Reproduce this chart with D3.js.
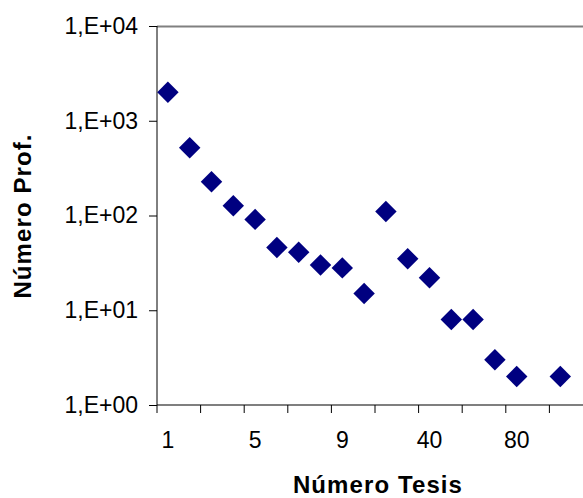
<!DOCTYPE html>
<html>
<head>
<meta charset="utf-8">
<script src="https://cdn.jsdelivr.net/npm/d3@7"></script>
<style>
  body { margin: 0; background: #fff; }
  text { font-family: "Liberation Sans", Arial, sans-serif; }
</style>
</head>
<body>
<div id="chart"></div>
<script>
// categories on the x axis (Número Tesis)
const tesis = ["1","2","3","4","5","6","7","8","9","10","20","30","40","50","60","70","80","90","100"];
// number of professors per category (null = no point)
const profesores = [2000, 520, 227, 127, 91, 46, 41, 30, 28, 15, 110, 35, 22, 8, 8, 3, 2, null, 2];
const yTicks = [1, 10, 100, 1000, 10000];
const xLabelEvery = 4;
const xTickEvery = 2;

const margin = { top: 26, right: 0, bottom: 93, left: 157 },
      fullW = 583, fullH = 498,
      height = fullH - margin.top - margin.bottom,
      step = 21.8,
      width = step * tesis.length;

const svg = d3.select("#chart")
  .append("svg")
  .attr("width", fullW)
  .attr("height", fullH)
  .append("g")
  .attr("transform", `translate(${margin.left}, ${margin.top})`);

const x = d3.scaleBand()
  .domain(tesis)
  .range([0, width]);

const y = d3.scaleLog()
  .domain([1, 10000])
  .range([height, 0]);

// plot area top border (grey), runs off the right edge like the original
svg.append("line")
  .attr("x1", 0).attr("x2", fullW)
  .attr("y1", 0.5).attr("y2", 0.5)
  .attr("stroke", "#808080").attr("stroke-width", 2);

/* -------------------- Y AXIS -------------------- */
const yAxis = svg.append("g")
  .call(d3.axisLeft(y).tickValues(yTicks).tickSize(8).tickPadding(11)
    .tickFormat(d => "1,E+0" + Math.round(Math.log10(d))));
yAxis.select(".domain").attr("stroke", "#000").attr("d", `M0,0V${height}`);
yAxis.selectAll(".tick line").attr("stroke", "#000");
yAxis.selectAll("text").attr("font-size", 23).attr("fill", "#000")
  .attr("font-family", "Liberation Sans, Arial, sans-serif");

/* -------------------- X AXIS -------------------- */
const xAxisG = svg.append("g")
  .attr("transform", `translate(0, ${height})`);
xAxisG.append("line")
  .attr("x1", 0).attr("x2", fullW)
  .attr("stroke", "#000").attr("stroke-width", 1.2);
const tickPos = d3.range(0, tesis.length, xTickEvery).map(i => i * step);
xAxisG.selectAll(".xt")
  .data(tickPos)
  .join("line")
  .attr("class", "xt")
  .attr("x1", d => d).attr("x2", d => d)
  .attr("y1", 0).attr("y2", 8)
  .attr("stroke", "#000");
xAxisG.selectAll(".xl")
  .data(tesis.filter((d, i) => i % xLabelEvery === 0))
  .join("text")
  .attr("class", "xl")
  .attr("x", d => x(d) + x.bandwidth() / 2)
  .attr("y", 43)
  .attr("text-anchor", "middle")
  .attr("font-size", 23)
  .text(d => d);

/* -------------------- POINTS -------------------- */
const pts = tesis.map((t, i) => ({ t, v: profesores[i] })).filter(d => d.v != null);
const diamond = d3.symbol().type(d3.symbolSquare).size(230);
svg.selectAll(".pt")
  .data(pts)
  .join("path")
  .attr("class", "pt")
  .attr("d", diamond)
  .attr("transform", d => `translate(${x(d.t) + x.bandwidth() / 2}, ${y(d.v)}) rotate(45)`)
  .attr("fill", "#000080");

/* -------------------- TITLES -------------------- */
svg.append("text")
  .attr("x", 378 - margin.left)
  .attr("y", 493 - margin.top)
  .attr("text-anchor", "middle")
  .attr("font-size", 24)
  .attr("font-weight", "bold")
  .attr("letter-spacing", 1.1)
  .text("Número Tesis");

svg.append("text")
  .attr("transform", `translate(${31 - margin.left}, ${216 - margin.top}) rotate(-90)`)
  .attr("text-anchor", "middle")
  .attr("font-size", 24)
  .attr("font-weight", "bold")
  .attr("letter-spacing", 1.1)
  .text("Número Prof.");
</script>
</body>
</html>
